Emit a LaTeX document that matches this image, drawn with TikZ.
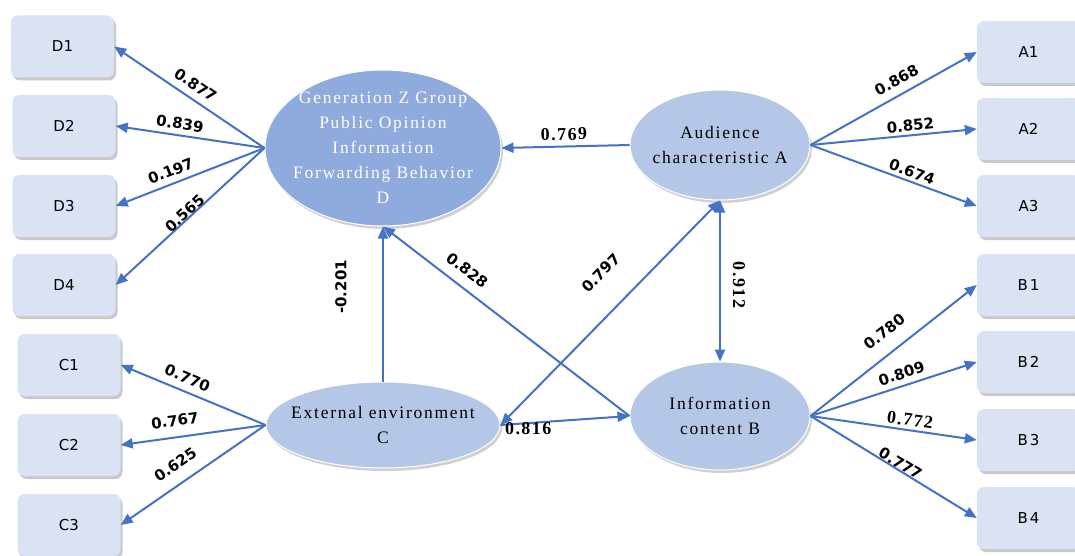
\documentclass[tikz,border=0pt]{standalone}
\usepackage{fontspec}
\setmainfont{Liberation Serif}
\newfontfamily\boxfont{DejaVu Sans}
\newfontfamily\labfont{DejaVu Sans}
\newfontfamily\elfont[LetterSpace=10]{Liberation Serif}
\newfontfamily\serlab[LetterSpace=8]{Liberation Serif}
\usetikzlibrary{shapes.geometric,shadows,arrows.meta}
\definecolor{boxfill}{HTML}{DAE3F3}
\definecolor{latfill}{HTML}{B4C7E7}
\definecolor{dfill}{HTML}{8FAADC}
\definecolor{arrowblue}{HTML}{4472C4}
\tikzset{
  obs/.style={rectangle, rounded corners=7pt, fill=boxfill, minimum width=103pt,
    minimum height=62pt, inner sep=0pt, font=\boxfont\fontsize{15}{18}\selectfont,
    drop shadow={shadow xshift=2pt, shadow yshift=-3pt, opacity=0.35, fill=black!60}},
  lat/.style={ellipse, fill=latfill, draw=white, line width=1pt, inner sep=0pt,
    drop shadow={shadow xshift=2pt, shadow yshift=-3pt, opacity=0.3, fill=black!60}},
  eltext/.style={font=\elfont\fontsize{17.5}{25}\selectfont, align=center, inner sep=0pt},
  arr/.style={draw=arrowblue, line width=2pt, ->},
  darr/.style={draw=arrowblue, line width=2pt, <->},
  lab/.style={font=\labfont\bfseries\fontsize{15}{17}\selectfont, inner sep=0pt, text=black},
  slab/.style={font=\serlab\bfseries\fontsize{18}{20}\selectfont, inner sep=0pt, text=black},
  >={Triangle[length=12pt,width=10pt]}
}
\begin{document}
\begin{tikzpicture}[x=1pt,y=-1pt]
\useasboundingbox (0,0) rectangle (1075,556);
\fill[white] (0,0) rectangle (1075,556);
% observed boxes
\node[obs] (D1) at (62.5,46.5) {D1};
\node[obs] (D2) at (64,126) {D2};
\node[obs] (D3) at (64,206) {D3};
\node[obs] (D4) at (64,285) {D4};
\node[obs] (C1) at (69,365) {C1};
\node[obs] (C2) at (69,445) {C2};
\node[obs] (C3) at (69,525) {C3};
\node[obs] (A1) at (1028.5,52) {A1};
\node[obs] (A2) at (1028.5,129) {A2};
\node[obs] (A3) at (1028.5,206) {A3};
\node[obs] (B1) at (1028.5,285) {B\kern2pt 1};
\node[obs] (B2) at (1028.5,362) {B\kern2pt 2};
\node[obs] (B3) at (1028.5,440) {B\kern2pt 3};
\node[obs] (B4) at (1028.5,518) {B\kern2pt 4};
% latent variables
\node[lat, fill=dfill, minimum width=236pt, minimum height=156pt,
  label={[eltext, text=white]center:Generation Z Group\\Public Opinion\\Information\\Forwarding Behavior\\D}] (D) at (383,148) {};
\node[lat, minimum width=180pt, minimum height=110pt,
  label={[eltext]center:Audience\\characteristic A}] (A) at (720,145) {};
\node[lat, minimum width=180pt, minimum height=108pt,
  label={[eltext]center:Information\\content B}] (B) at (720,416) {};
\node[lat, minimum width=234pt, minimum height=86pt,
  label={[eltext]center:External environment\\C}] (C) at (383,425) {};
% loadings D
\draw[arr] (D.west) -- node[lab, sloped, pos=0.51, above=7pt] {0.877} (D1.east);
\draw[arr] (D.west) -- node[lab, sloped, pos=0.58, above=5pt] {0.839} (D2.east);
\draw[arr] (D.west) -- node[lab, sloped, pos=0.60, above=6pt] {0.197} (D3.east);
\draw[arr] (D.west) -- node[lab, sloped, pos=0.51, above=-1pt] {0.565} (D4.east);
% loadings C
\draw[arr] (C.west) -- node[lab, sloped, pos=0.575, above=7pt] {0.770} (C1.east);
\draw[arr] (C.west) -- node[lab, sloped, pos=0.61, above=10pt] {0.767} (C2.east);
\draw[arr] (C.west) -- node[lab, sloped, pos=0.55, above=12pt] {0.625} (C3.east);
% loadings A
\draw[arr] (A.east) -- node[lab, sloped, pos=0.56, above=8pt] {0.868} (A1.west);
\draw[arr] (A.east) -- node[lab, sloped, pos=0.606, above=3pt] {0.852} (A2.west);
\draw[arr] (A.east) -- node[lab, sloped, pos=0.59, above=3pt] {0.674} (A3.west);
% loadings B
\draw[arr] (B.east) -- node[lab, sloped, pos=0.52, above=14pt] {0.780} (B1.west);
\draw[arr] (B.east) -- node[lab, sloped, pos=0.57, above=5.5pt] {0.809} (B2.west);
\draw[arr] (B.east) -- node[slab, sloped, pos=0.59, above=3pt] {0.772} (B3.west);
\draw[arr] (B.east) -- node[lab, sloped, pos=0.52, above=0pt] {0.777} (B4.west);
% structural paths
\draw[arr] (A.west) -- node[slab, sloped, pos=0.51, above=5pt] {0.769} (D.east);
\draw[arr] (C.north) -- node[lab, pos=0.61, xshift=-42pt, rotate=90] {-0.201} (D.south);
\draw[arr] (B.west) -- node[lab, sloped, pos=0.70, above=10pt] {0.828} (D.south);
\draw[darr] (C.east) -- node[lab, sloped, pos=0.57, above=28pt] {0.797} (A.south);
\draw[darr] (A.south) -- node[slab, pos=0.525, xshift=19pt, rotate=-90] {0.912} (B.north);
\draw[arr] (C.east) -- node[slab, pos=0.215, below=-2pt] {0.816} (B.west);
\end{tikzpicture}
\end{document}
